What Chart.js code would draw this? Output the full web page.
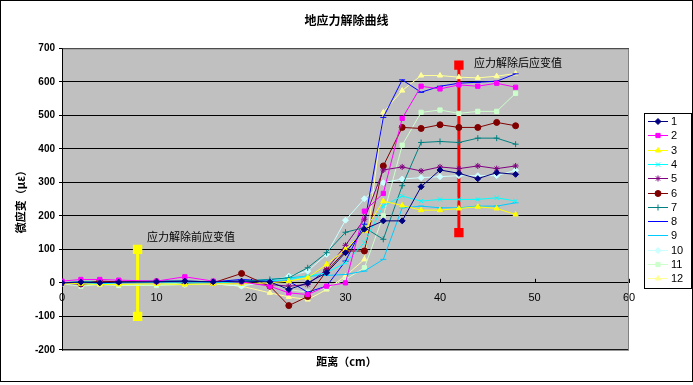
<!DOCTYPE html>
<html>
<head>
<meta charset="utf-8">
<script src="https://cdn.jsdelivr.net/npm/chart.js@4/dist/chart.umd.min.js"></script>
<style>
  html, body { margin: 0; padding: 0; background: #fff; }
</style>
</head>
<body>
<canvas id="grafico" width="693" height="385"></canvas>
<script>
// distancias (cm)
const distancias = [0, 2, 4, 6, 10, 13, 16, 19, 22, 24, 26, 28, 30, 32, 34, 36, 38, 40, 42, 44, 46, 48];

// microdeformacao de cada serie
const serie1 = [0, 2, 0, 2, 3, 5, 3, 5, 3, -20, 0, 30, 90, 160, 185, 185, 287, 337, 327, 311, 329, 324];
const serie2 = [5, 10, 10, 8, 5, 18, 5, 3, -10, -30, -35, -10, 0, 214, 267, 491, 587, 579, 591, 587, 596, 584];
const serie3 = [0, -3, -5, -5, -3, -5, -3, -3, 0, 5, 15, 55, 100, 155, 244, 231, 217, 217, 222, 227, 222, 204];
const serie4 = [0, 0, -3, 0, 0, 0, 0, 3, 5, 10, 20, 30, 60, 120, 230, 259, 244, 249, 249, 249, 254, 244];
const serie5 = [0, -5, 0, 0, 0, 3, 0, 0, -5, -10, -5, 40, 112, 190, 337, 346, 334, 346, 341, 349, 341, 349];
const serie6 = [0, -3, 5, 3, 3, 0, 0, 28, -10, -68, -41, 35, 95, 95, 349, 464, 461, 472, 464, 464, 479, 469];
const serie7 = [0, 3, 3, 3, 5, 5, 3, 5, 10, 15, 45, 90, 151, 165, 130, 290, 419, 422, 419, 432, 432, 414];
const serie8 = [0, 0, 3, 3, 5, 5, 3, 10, 5, 5, -28, -10, 65, 175, 494, 606, 569, 587, 596, 599, 602, 624];
const serie9 = [0, 3, 3, 3, 3, 0, 3, 5, 10, 15, 20, 22, 25, 35, 70, 224, 229, 224, 224, 229, 229, 239];
const serie10 = [0, -5, -3, -5, -3, -5, -3, -10, 5, 20, 35, 85, 187, 251, 299, 310, 314, 317, 320, 320, 320, 336];
const serie11 = [-3, -10, -5, -8, -8, -5, 0, -5, 0, -20, -28, -15, 10, 45, 200, 411, 509, 516, 506, 512, 512, 566];
const serie12 = [0, -5, -3, -3, 0, -3, -3, -10, -30, -42, -50, -20, 20, 70, 509, 574, 619, 619, 614, 612, 617, 625];

const nomesSeries = ["1", "2", "3", "4", "5", "6", "7", "8", "9", "10", "11", "12"];

// barras de referencia (antes / depois da liberacao)
const barraAntesX = [8, 8];
const barraAntesY = [100, -100];
const barraDepoisX = [42, 42];
const barraDepoisY = [650, 150];

const textoAntes = "应力解除前应变值";
const textoDepois = "应力解除后应变值";

const eixoXTicks = { min: 0, max: 60, passo: 10 };
const eixoYTicks = { min: -200, max: 700, passo: 100 };

const cores = ["#000080", "#FF00FF", "#FFFF00", "#00FFFF", "#800080", "#800000",
  "#008080", "#0000FF", "#00CCFF", "#CCFFFF", "#CCFFCC", "#FFFF99"];
const marcadores = ["rectRot", "rect", "triangle", "crossRot", "star", "circle",
  "cross", "line", "line", "rectRot", "rect", "triangle"];

const series = [serie1, serie2, serie3, serie4, serie5, serie6, serie7, serie8, serie9, serie10, serie11, serie12];

const datasets = series.map((valores, i) => ({
  label: nomesSeries[i],
  data: distancias.map((d, j) => ({ x: d, y: valores[j] })),
  borderColor: cores[i],
  backgroundColor: cores[i],
  borderWidth: 1,
  pointStyle: marcadores[i],
  pointRadius: 3,
  pointBorderWidth: 1,
  tension: 0
}));

datasets.push({
  label: "antes",
  data: barraAntesX.map((x, i) => ({ x: x, y: barraAntesY[i] })),
  borderColor: "#FFFF00",
  backgroundColor: "#FFFF00",
  borderWidth: 3,
  pointStyle: "rect",
  pointRadius: 4.5
});
datasets.push({
  label: "depois",
  data: barraDepoisX.map((x, i) => ({ x: x, y: barraDepoisY[i] })),
  borderColor: "#FF0000",
  backgroundColor: "#FF0000",
  borderWidth: 3,
  pointStyle: "rect",
  pointRadius: 4.5
});

const fonteCJK = "'Noto Sans CJK SC', 'Noto Sans', sans-serif";

const pluginFundo = {
  id: "fundo",
  beforeDraw(chart) {
    const { ctx, chartArea: a } = chart;
    ctx.save();
    ctx.fillStyle = "#FFFFFF";
    ctx.fillRect(0, 0, chart.width, chart.height);
    ctx.fillStyle = "#C0C0C0";
    ctx.fillRect(a.left, a.top, a.right - a.left, a.bottom - a.top);
    ctx.restore();
  },
  beforeDatasetsDraw(chart) {
    const { ctx, chartArea: a, scales } = chart;
    ctx.save();
    // borda cinza da area do grafico
    ctx.strokeStyle = "#808080";
    ctx.lineWidth = 1;
    ctx.strokeRect(a.left + 0.5, a.top + 0.5, a.right - a.left - 1, a.bottom - a.top);
    // eixo y em preto
    ctx.strokeStyle = "#000";
    ctx.beginPath();
    ctx.moveTo(a.left + 0.5, a.top);
    ctx.lineTo(a.left + 0.5, a.bottom + 1);
    ctx.stroke();
    // marcas do eixo x para dentro
    const y0 = scales.y.getPixelForValue(0);
    scales.x.ticks.forEach(t => {
      const px = Math.round(scales.x.getPixelForValue(t.value)) + 0.5;
      ctx.beginPath();
      ctx.moveTo(px, y0);
      ctx.lineTo(px, y0 - 4);
      ctx.stroke();
    });
    ctx.restore();
  },
  afterDraw(chart) {
    const { ctx, scales } = chart;
    ctx.save();
    // textos das barras
    ctx.fillStyle = "#000";
    ctx.font = "11px " + fonteCJK;
    ctx.textAlign = "left";
    ctx.textBaseline = "middle";
    ctx.fillText(textoDepois, scales.x.getPixelForValue(43.6), scales.y.getPixelForValue(656));
    ctx.fillText(textoAntes, scales.x.getPixelForValue(9), scales.y.getPixelForValue(136));

    // legenda
    const lx = 644, ly = 113, lw = 47, lh = 175;
    ctx.fillStyle = "#FFFFFF";
    ctx.fillRect(lx, ly, lw, lh);
    ctx.strokeStyle = "#000";
    ctx.lineWidth = 1;
    ctx.strokeRect(lx + 0.5, ly + 0.5, lw, lh);
    ctx.font = "11px 'Liberation Sans', Arial, sans-serif";
    nomesSeries.forEach((nome, i) => {
      const yy = Math.round(ly + 8 + i * 14.3) + 0.5;
      ctx.strokeStyle = cores[i];
      ctx.fillStyle = cores[i];
      ctx.lineWidth = 1;
      ctx.beginPath();
      ctx.moveTo(648, yy);
      ctx.lineTo(668, yy);
      ctx.stroke();
      if (Chart.helpers && Chart.helpers.drawPoint) {
        Chart.helpers.drawPoint(ctx, { pointStyle: marcadores[i], radius: 3, borderWidth: 1, rotation: 0 }, 658, yy);
      }
      ctx.fillStyle = "#000";
      ctx.fillText(nome, 671, yy);
    });

    // borda externa
    ctx.strokeStyle = "#000";
    ctx.lineWidth = 1;
    ctx.strokeRect(0.5, 0.5, chart.width - 1, 381);
    ctx.restore();
  }
};

const ctx = document.getElementById("grafico").getContext("2d");
const grafico = new Chart(ctx, {
  type: "line",
  data: { datasets: datasets },
  plugins: [pluginFundo],
  options: {
    responsive: false,
    animation: false,
    devicePixelRatio: 1,
    layout: { padding: 0 },
    scales: {
      x: {
        type: "linear",
        min: eixoXTicks.min,
        max: eixoXTicks.max,
        position: { y: 0 },
        ticks: {
          stepSize: eixoXTicks.passo,
          color: "#000",
          padding: 9,
          font: { family: "'Liberation Sans', Arial, sans-serif", size: 11 }
        },
        grid: { drawOnChartArea: false, drawTicks: false },
        border: { color: "#000", width: 1 }
      },
      y: {
        min: eixoYTicks.min,
        max: eixoYTicks.max,
        ticks: {
          stepSize: eixoYTicks.passo,
          color: "#000",
          padding: 4,
          font: { family: "'Liberation Sans', Arial, sans-serif", size: 10, weight: "bold" }
        },
        grid: { color: "#000", lineWidth: 1, tickLength: 3, tickColor: "#000" },
        border: { color: "#000" },
        title: {
          display: true,
          text: "微应变（με）",
          color: "#000",
          font: { family: fonteCJK, size: 11, weight: "bold" },
          padding: { top: 14, bottom: 0 }
        },
        afterFit(scale) { scale.width = 62; }
      },
      // eixo vazio a direita so para reservar o espaco da legenda
      espacoLegenda: {
        type: "linear",
        position: "right",
        axis: "y",
        ticks: { display: false },
        grid: { display: false },
        border: { display: false },
        afterFit(scale) { scale.width = 64; }
      }
    },
    plugins: {
      legend: { display: false },
      tooltip: { enabled: false },
      title: {
        display: true,
        text: "地应力解除曲线",
        color: "#000",
        font: { family: fonteCJK, size: 12, weight: "bold" },
        padding: { top: 13, bottom: 21 }
      },
      subtitle: {
        display: true,
        position: "bottom",
        text: "距离（cm）",
        color: "#000",
        font: { family: fonteCJK, size: 11, weight: "bold" },
        padding: { top: 5, bottom: 17 }
      }
    }
  }
});
</script>
</body>
</html>
